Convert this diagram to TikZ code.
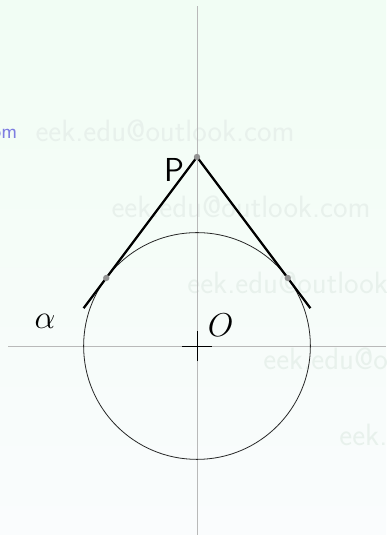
\documentclass[tikz,border=0pt]{standalone}
\usepackage{amsmath,amssymb}
\usepackage{xcolor}
\usepackage{tikz}
\definecolor{bgtop}{RGB}{241,253,244}
\definecolor{bgbot}{RGB}{250,252,253}
\definecolor{wmark}{RGB}{232,241,236}
\definecolor{wblue}{RGB}{125,125,225}
\tikzset{
  axisline/.style={gray!55, line width=0.6pt},
  tangentline/.style={line width=1.7pt},
  touchdot/.style={circle, fill=gray!85, inner sep=0pt, minimum size=4.8pt},
  wm/.style={text=wmark, font=\fontsize{23.2}{27}\selectfont\sffamily},
  lbl/.style={font=\fontsize{25}{29}\selectfont},
}

\begin{document}
\begin{tikzpicture}[scale=1.5]
  % background and frame
  \fill[top color=bgtop, bottom color=bgbot] (-3.475,-3.334) rectangle (3.334,6.103);
  \useasboundingbox (-3.475,-3.334) rectangle (3.334,6.103);
  % watermarks
  \begin{scope}
    \clip (-3.475,-3.334) rectangle (3.334,6.103);
    \node[wm, text=wblue, font=\fontsize{16}{19}\selectfont\sffamily, anchor=east] (wb) at (-3.087,3.793) {eek.edu@outlook.com};
    \foreach \i in {0,...,4}
      \node[wm] (w\i) at ({-0.564+1.34*\i},{3.793-1.34*\i}) {eek.edu@outlook.com};
  \end{scope}
  % axes
  \coordinate (O) at (0,0);
  \coordinate (xl) at (-10/3,0);
  \coordinate (xr) at (10/3,0);
  \coordinate (yb) at (0,-3.334);
  \coordinate (yt) at (0,6);
  \draw[axisline] (xl) -- (xr);
  \draw[axisline] (yb) -- (yt);
  % circle
  \draw[black!85, line width=0.6pt] (O) circle (2);
  \draw[line width=0.7pt] (-0.265,0) -- (0.265,0);
  \draw[line width=0.7pt] (0,-0.265) -- (0,0.265);
  % tangents from P
  \coordinate (P) at (0,10/3);
  \coordinate (T1) at (-1.6,1.2);
  \coordinate (T2) at (1.6,1.2);
  \coordinate (E1) at (-2,2/3);
  \coordinate (E2) at (2,2/3);
  \draw[tangentline] (E1) -- (P) -- (E2);
  \node[touchdot] (p) at (P) {};
  \node[touchdot] (t1) at (T1) {};
  \node[touchdot] (t2) at (T2) {};
  % labels
  \node[lbl] (Plbl) at (-0.40,3.10) {\textsf{P}};
  \node[lbl] (Olbl) at (0.42,0.37) {$O$};
  \node[lbl] (alpha) at (-2.68,0.43) {$\alpha$};
\end{tikzpicture}
\end{document}
